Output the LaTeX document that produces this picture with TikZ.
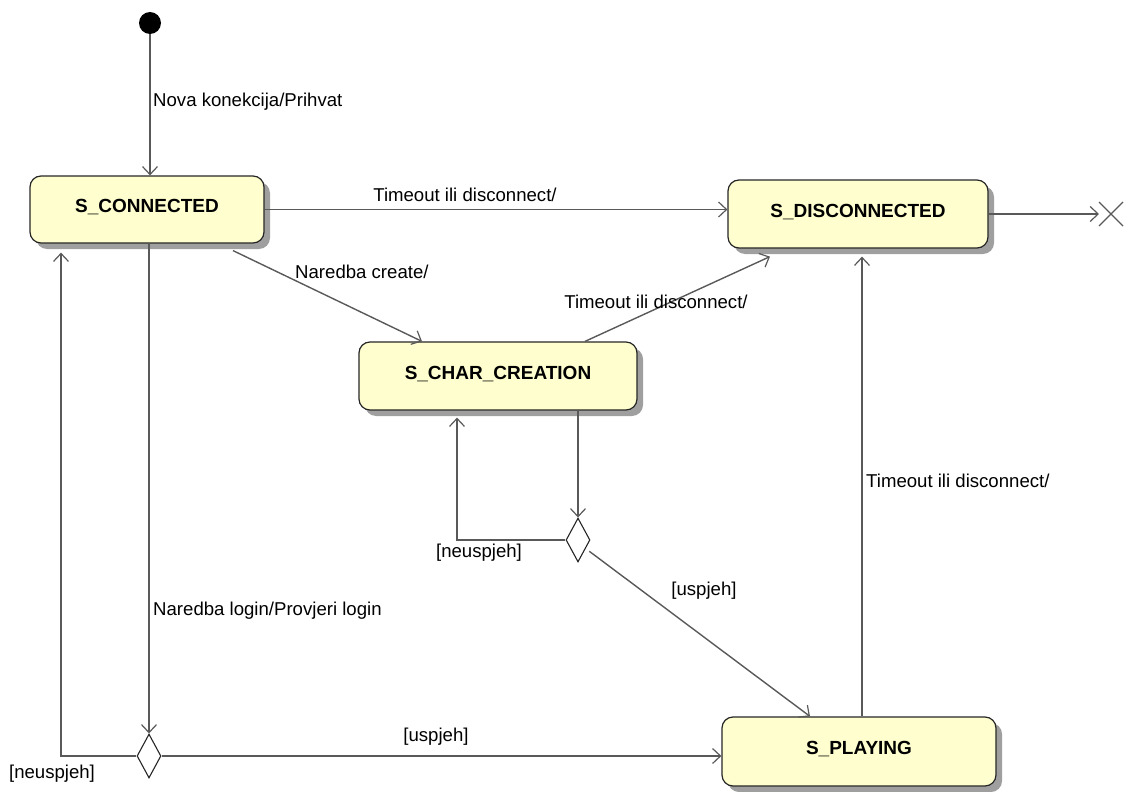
\documentclass[tikz,border=0pt]{standalone}
\usepackage{fontspec}
\setmainfont{Liberation Sans}
\usetikzlibrary{arrows.meta,shadows,shapes.geometric,calc}
\definecolor{statefill}{HTML}{FEFECE}
\definecolor{linec}{HTML}{595959}
\begin{document}
\begin{tikzpicture}[x=1pt,y=-1pt,
  state/.style={draw=black!85, line width=1.2pt, fill=statefill, rounded corners=11pt,
    drop shadow={shadow xshift=6pt, shadow yshift=-6pt, opacity=1, fill=gray!75},
    font=\fontsize{19}{21}\selectfont\bfseries, inner sep=0pt},
  choice/.style={draw=black!85, line width=1.1pt, diamond, aspect=0.55, minimum width=24pt, minimum height=44pt, inner sep=0pt, fill=white},
  tr/.style={draw=linec, line width=1.4pt, -{Straight Barb[length=8pt,width=15pt,line width=1.2pt]}},
  lbl/.style={font=\fontsize{18.6}{21}\selectfont, text=black, inner sep=0pt, yshift=-2pt}]
\useasboundingbox (0,0) rectangle (1128,792);
% nodes
\node[circle, fill=black, minimum size=22pt, inner sep=0pt] (init) at (150,23) {};
\node[state, minimum width=234pt, minimum height=67pt] (conn) at (147,209.5) {\raisebox{7pt}{S\_CONNECTED}};
\node[state, minimum width=260pt, minimum height=68pt] (disc) at (858,214) {\raisebox{7pt}{S\_DISCONNECTED}};
\node[state, minimum width=278pt, minimum height=68pt] (char) at (498,376) {\raisebox{7pt}{S\_CHAR\_CREATION}};
\node[state, minimum width=274pt, minimum height=69pt] (play) at (859,751.5) {\raisebox{7pt}{S\_PLAYING}};
\node[choice] (dia1) at (149,756) {};
\node[choice] (dia2) at (578,540) {};
\coordinate (fin) at (1111,214);
\draw[line width=1.3pt, draw=linec] ($(fin)+(-12,-12)$) -- ($(fin)+(12,12)$) ($(fin)+(-12,12)$) -- ($(fin)+(12,-12)$);
% transitions
\draw[tr] (init) -- (init |- conn.north);
\node[lbl, anchor=west] (l1) at (153,100) {Nova konekcija/Prihvat};
\draw[tr] (conn.east) -- (conn.east -| disc.west);
\node[lbl] (l2) at (465,193) {Timeout ili disconnect/};
\draw[tr] (disc.east) -- ($(fin)+(-12,0)$);
\draw[tr] ($(conn.south)+(86,7)$) -- ($(char.north)+(-76,0)$);
\node[lbl, anchor=west] (l3) at (295,270) {Naredba create/};
\draw[tr] ($(char.north)+(87,0)$) -- ($(disc.south)+(-88,8)$);
\node[lbl] (l4) at (656,300) {Timeout ili disconnect/};
\draw[tr] (char.south -| dia2) -- (dia2.north);
\draw[tr] (dia2.west) -| ($(char.south)+(-41,7)$);
\node[lbl] (n2) at (479,551) {[neuspjeh]};
\draw[tr] ($(dia2.south east)+(5,0)$) -- ($(play.north)+(-49,0)$);
\node[lbl] (l5) at (704,589) {[uspjeh]};
\draw[tr] (play.north -| 862,0) -- ($(disc.south -| 862,0)+(0,8)$);
\node[lbl, anchor=west] (l6) at (866,479) {Timeout ili disconnect/};
\draw[tr] (dia1 |- conn.south) -- (dia1.north);
\node[lbl, anchor=west] (l7) at (153,609) {Naredba login/Provjeri login};
\draw[tr] (dia1.west) -| ($(conn.south)+(-86,9)$);
\node[lbl] (n1) at (52,772) {[neuspjeh]};
\draw[tr] (dia1.east) -- (dia1 -| play.west);
\node[lbl] (l8) at (436,735) {[uspjeh]};
\end{tikzpicture}
\end{document}
